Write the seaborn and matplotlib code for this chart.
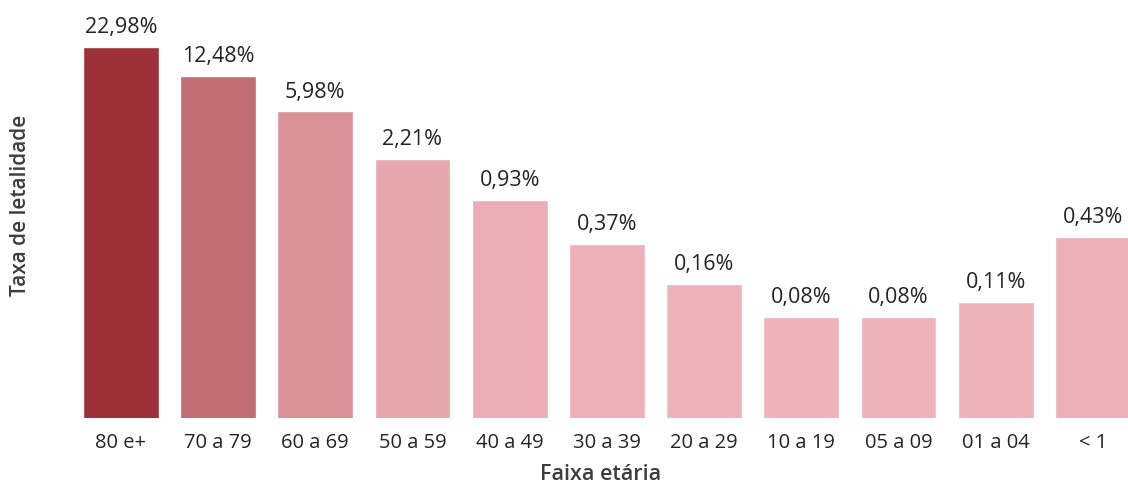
import pandas as pd
import numpy as np
import matplotlib.pyplot as plt
import matplotlib.colors as mcolors
import seaborn as sns

# Age groups and case fatality rate (%)
faixas = ["80 e+", "70 a 79", "60 a 69", "50 a 59", "40 a 49", "30 a 39",
          "20 a 29", "10 a 19", "05 a 09", "01 a 04", "< 1"]
taxa = [22.98, 12.48, 5.98, 2.21, 0.93, 0.37, 0.16, 0.08, 0.08, 0.11, 0.43]
rotulos = ["22,98%", "12,48%", "5,98%", "2,21%", "0,93%", "0,37%",
           "0,16%", "0,08%", "0,08%", "0,11%", "0,43%"]

data = pd.DataFrame({"faixa": faixas, "taxa": taxa})

sns.set_style("white")
plt.rcParams["font.family"] = ["Open Sans", "DejaVu Sans"]

# colour grows with the value, light pink -> dark red
cmap = mcolors.LinearSegmentedColormap.from_list("red", ["#EDB3B8", "#9E3039"])
norm = mcolors.Normalize(vmin=min(taxa), vmax=max(taxa))
cores = [mcolors.to_hex(cmap(norm(v))) for v in taxa]

fig = plt.figure(figsize=(11.28, 4.85), dpi=100)
ax = fig.add_axes([0.064, 0.136, 0.936, 0.864])

sns.barplot(x="faixa", y="taxa", hue="faixa", data=data, palette=cores,
            width=0.78, legend=False, ax=ax, saturation=1)

ax.set_yscale("log")
ax.set_ylim(0.0096, 63)
ax.set_xlim(-0.5, 10.36)

for i, (v, txt) in enumerate(zip(taxa, rotulos)):
    ax.annotate(txt, (i, v), xytext=(0, 7), textcoords="offset points",
                ha="center", va="bottom", fontsize=15.5, color="#252423")

sns.despine(left=True, bottom=True)
ax.set_yticks([])
ax.minorticks_off()
ax.tick_params(axis="x", length=0, pad=10, labelsize=14.5, labelcolor="#252423")
ax.set_xlabel("Faixa etária", fontsize=15.5, fontweight="semibold",
              color="#3d3d3d", labelpad=8)
ax.set_ylabel("Taxa de letalidade", fontsize=15, fontweight="semibold",
              color="#3d3d3d")
ax.yaxis.set_label_coords(-0.039, 0.51)

fig.savefig("out.png", dpi=100)
